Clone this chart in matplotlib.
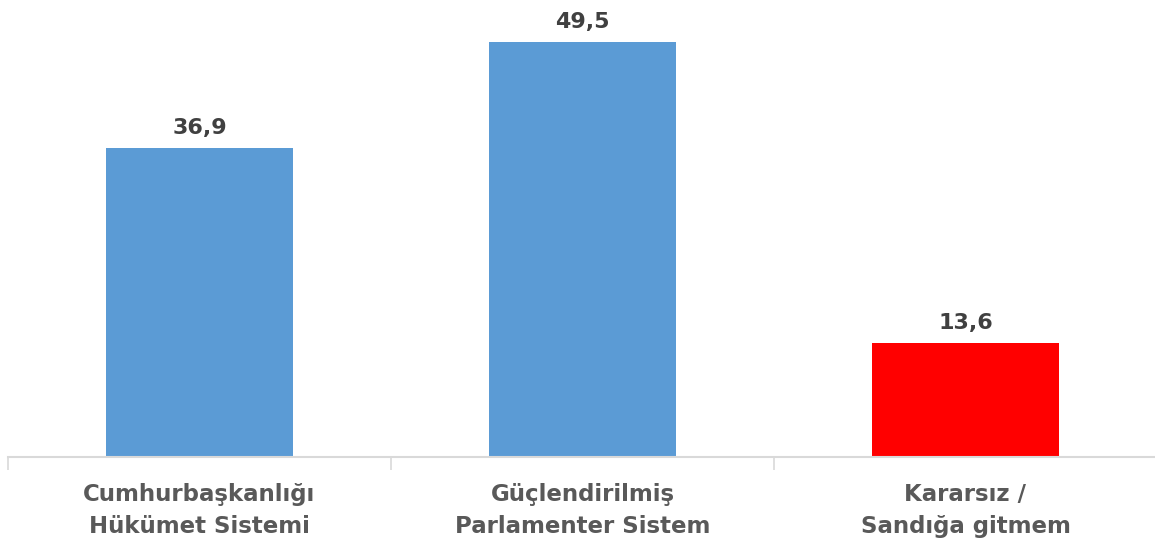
import matplotlib
matplotlib.use("Agg")
import matplotlib.pyplot as plt
import numpy as np

categories = ["Cumhurbaşkanlığı\nHükümet Sistemi", "Güçlendirilmiş\nParlamenter Sistem", "Kararsız /\nSandığa gitmem"]
values = [36.9, 49.5, 13.6]
value_labels = ["36,9", "49,5", "13,6"]
colors = ["#5B9BD5", "#5B9BD5", "#FF0000"]

fig = plt.figure(figsize=(11.55, 5.44), dpi=100)
ax = fig.add_axes([8 / 1155, 87 / 544, 1149 / 1155, 457 / 544])

x = np.arange(len(categories))
bars = ax.bar(x, values, width=0.49, color=colors)

for xi, v, lab in zip(x, values, value_labels):
    ax.text(xi, v + 1.2, lab, ha="center", va="bottom", fontsize=16,
            fontweight="bold", color="#404040", family="DejaVu Sans")

ax.set_xlim(-0.5, 2.5)
ax.set_ylim(0, 54.5)
ax.set_yticks([])
ax.set_xticks(x)
ax.set_xticklabels(categories, fontsize=16.5, fontweight="bold", color="#595959",
                   family="DejaVu Sans", linespacing=1.5)
ax.tick_params(axis="x", which="major", length=0, pad=19)
ax.set_xticks([-0.5, 0.5, 1.5, 2.5], minor=True)
ax.tick_params(axis="x", which="minor", length=9, color="#D9D9D9", width=1.2)

for s in ["top", "right", "left"]:
    ax.spines[s].set_visible(False)
ax.spines["bottom"].set_color("#D9D9D9")
ax.spines["bottom"].set_linewidth(1.5)

fig.savefig("out.png", dpi=100)
